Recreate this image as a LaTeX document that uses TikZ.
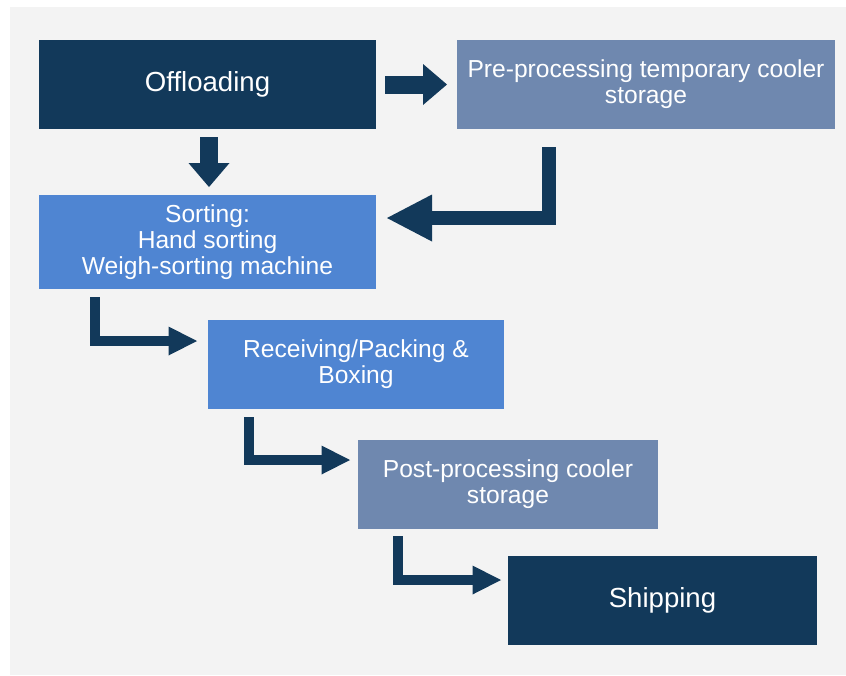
\documentclass[tikz,border=0pt]{standalone}
\usepackage{fontspec}
\setmainfont{Liberation Sans}
\usetikzlibrary{arrows.meta,positioning}

\definecolor{navy}{HTML}{12395A}
\definecolor{slate}{HTML}{6F88AF}
\definecolor{azure}{HTML}{4F85D2}
\definecolor{paper}{HTML}{F3F3F3}

\begin{document}
\begin{tikzpicture}[
        every node/.style={text=white, align=center, inner sep=0pt, outer sep=0pt,
            font=\fontsize{14}{14.75}\selectfont},
        box/.style={minimum height=1.78cm},
        big/.style={font=\fontsize{15.7}{18}\selectfont},
        flow/.style={draw=navy, line width=0.36cm,
            -{Triangle[length=0.48cm, width=0.82cm, line width=0pt]}},
        back/.style={draw=navy, line width=0.28cm, line join=miter,
            -{Triangle[length=0.9cm, width=0.94cm, line width=0pt]}},
        elbow/.style={draw=navy, line width=0.2cm, line join=miter,
            -{Triangle[length=0.57cm, width=0.58cm, line width=0pt]}},
    ]
    \fill[white] (0,0) rectangle (16.92,-13.5);
    \fill[paper] (0.2,-0.14) rectangle (16.92,-13.5);

    \node[box, big, fill=navy, minimum width=6.74cm] (off) at (4.15,-1.69) {Offloading};
    \node[box, fill=slate, minimum width=7.56cm, right=1.62cm of off] (pre)
        {Pre-processing temporary cooler\\storage};
    \node[box, fill=azure, minimum width=6.74cm, minimum height=1.88cm, below=1.32cm of off] (sort)
        {Sorting:\\Hand sorting\\Weigh-sorting machine};
    \node[box, fill=azure, minimum width=5.92cm] (recv) at (7.12,-7.29)
        {Receiving/Packing \&\\Boxing};
    \node[box, fill=slate, minimum width=6cm] (post) at (10.16,-9.69)
        {Post-processing cooler\\storage};
    \node[box, big, fill=navy, minimum width=6.18cm] (ship) at (13.25,-12.01) {Shipping};

    \draw[flow] ([xshift=0.18cm]off.east) -- ([xshift=-0.2cm]pre.west);
    \draw[flow] ([xshift=0.03cm, yshift=-0.16cm]off.south) -- ([xshift=0.03cm, yshift=0.16cm]sort.north);
    \draw[back] ([xshift=1.84cm, yshift=-0.36cm]pre.south west) |- ([xshift=0.22cm, yshift=0.48cm]sort.east);
    \draw[elbow] ([xshift=1.11cm, yshift=-0.16cm]sort.south west) |- ([xshift=-0.22cm, yshift=0.47cm]recv.west);
    \draw[elbow] ([xshift=0.81cm, yshift=-0.16cm]recv.south west) |- ([xshift=-0.16cm, yshift=0.49cm]post.west);
    \draw[elbow] ([xshift=0.8cm, yshift=-0.14cm]post.south west) |- ([xshift=-0.14cm, yshift=0.41cm]ship.west);
\end{tikzpicture}
\end{document}
